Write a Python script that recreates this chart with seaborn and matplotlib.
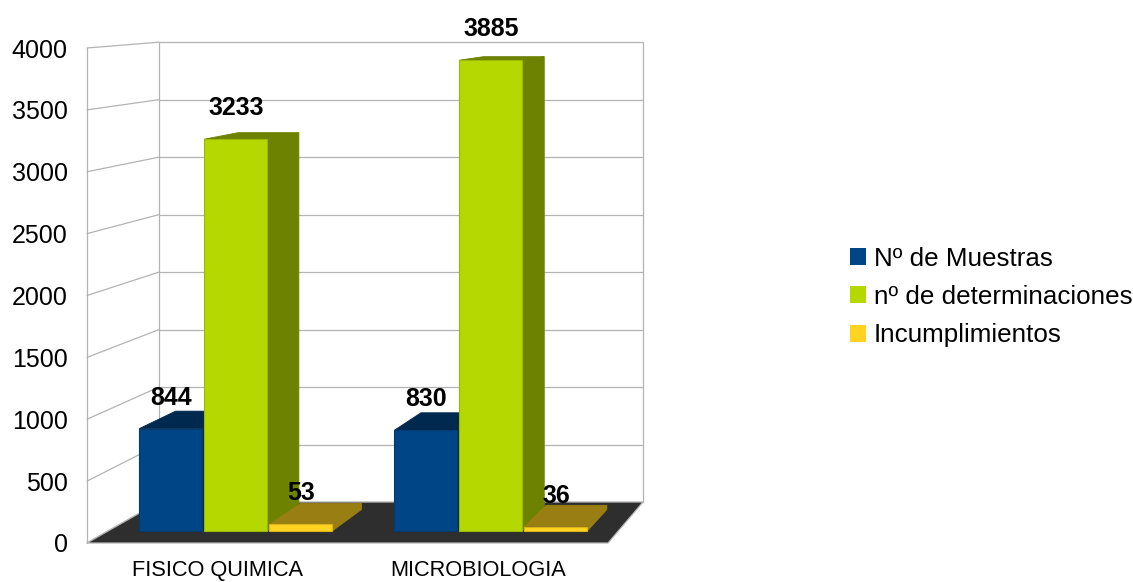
import numpy as np
import pandas as pd
import matplotlib
matplotlib.use("Agg")
import matplotlib.pyplot as plt
from matplotlib.patches import Polygon, Patch
from matplotlib.transforms import Affine2D
from matplotlib.colors import to_rgb
import seaborn as sns

# ---- data ----
categories = ["FISICO QUIMICA", "MICROBIOLOGIA"]
series = ["Nº de Muestras", "nº de determinaciones", "Incumplimientos"]
muestras = [844, 830]
determinaciones = [3233, 3885]
incumplimientos = [53, 36]
colors = ["#004586", "#b5d800", "#ffd320"]
y_ticks = list(range(0, 4001, 500))
y_max = 4000

df = pd.DataFrame({
    "categoria": categories * 3,
    "serie": [s for s in series for _ in categories],
    "valor": muestras + determinaciones + incumplimientos,
})

# ---- figure & pseudo-3D box geometry (image pixels, origin top-left) ----
W, H = 1133, 582
sns.set_style("white")
plt.rcParams["font.family"] = ["Liberation Sans", "DejaVu Sans"]
plt.rcParams["text.color"] = "black"
plt.rcParams["xtick.color"] = "black"
plt.rcParams["ytick.color"] = "black"
fig = plt.figure(figsize=(W / 100, H / 100), dpi=100)
pix = Affine2D().scale(1 / W, -1 / H).translate(0, 1) + fig.transFigure

BOX_L, BOX_R, BOX_B, BOX_T = 87, 608, 543, 48   # front face of the box
VANISH = np.array([1101.0, -34.0])              # vanishing point
WALL_DEPTH = 0.071
BAR_FRONT, BAR_BACK = 0.021, 0.058
GRID = "#b3b3b3"
FLOOR = "#2e2e2e"


def push(p, f_from, f_to):
    """Move image points from one depth to another toward the vanishing point."""
    p = np.asarray(p, dtype=float)
    return VANISH + (p - VANISH) * (1 - f_to) / (1 - f_from)


# front axis: value ticks and category labels
ax_frame = fig.add_axes([BOX_L / W, 1 - BOX_B / H, (BOX_R - BOX_L) / W, (BOX_B - BOX_T) / H])
ax_frame.set_xlim(-0.5, len(categories) - 0.5)
ax_frame.set_ylim(0, y_max)
ax_frame.set_yticks(y_ticks)
ax_frame.set_xticks(range(len(categories)))
ax_frame.set_xticklabels(categories)
ax_frame.tick_params(axis="y", length=0, pad=14, labelsize=18, labelcolor="black")
ax_frame.tick_params(axis="x", length=0, pad=12.5, labelsize=15.7, labelcolor="black")
for s in ax_frame.spines.values():
    s.set_visible(False)
ax_frame.patch.set_alpha(0)
ax_frame.set_zorder(5)


def frame_px(x, v, depth=0.0):
    d = ax_frame.transData.transform(np.column_stack([np.atleast_1d(x), np.atleast_1d(v)]))
    p = pix.inverted().transform(d)
    return push(p, 0.0, depth)


# bar axes: full figure, limits chosen so bar fronts sit at BAR_FRONT depth
ax = fig.add_axes([0, 0, 1, 1])
sns.barplot(data=df, x="categoria", y="valor", hue="serie", palette=colors,
            width=0.765, gap=0.03, saturation=1, legend=False, ax=ax,
            edgecolor="none", linewidth=0)
bars = sorted([bar for cont in ax.containers for bar in cont], key=lambda p: p.get_x())

x_span = (BOX_R - BOX_L) / len(categories)
a = x_span * (1 - BAR_FRONT)
b = VANISH[0] + (BOX_L + 0.5 * x_span - VANISH[0]) * (1 - BAR_FRONT)
c = -(BOX_B - BOX_T) / y_max * (1 - BAR_FRONT)
d = VANISH[1] + (BOX_B - VANISH[1]) * (1 - BAR_FRONT)
ax.set_xlim((0 - b) / a, (W - b) / a)
ax.set_ylim((H - d) / c, (0 - d) / c)
ax.axis("off")

# walls, grid and floor
x_lo, x_hi = -0.5, len(categories) - 0.5
for v in y_ticks:
    f = frame_px(x_lo, v)[0]
    bl = frame_px(x_lo, v, WALL_DEPTH)[0]
    br = frame_px(x_hi, v, WALL_DEPTH)[0]
    ax.plot([f[0], bl[0]], [f[1], bl[1]], color=GRID, lw=0.9, transform=pix, zorder=1, clip_on=False)
    ax.plot([bl[0], br[0]], [bl[1], br[1]], color=GRID, lw=0.9, transform=pix, zorder=1, clip_on=False)
for xx, dep in [(x_lo, 0.0), (x_lo, WALL_DEPTH), (x_hi, WALL_DEPTH)]:
    p0 = frame_px(xx, 0, dep)[0]
    p1 = frame_px(xx, y_max, dep)[0]
    ax.plot([p0[0], p1[0]], [p0[1], p1[1]], color=GRID, lw=0.9, transform=pix, zorder=1, clip_on=False)

floor = np.vstack([frame_px(x_lo, 0), frame_px(x_hi, 0),
                   frame_px(x_hi, 0, WALL_DEPTH), frame_px(x_lo, 0, WALL_DEPTH)])
ax.add_patch(Polygon(floor, closed=True, facecolor=FLOOR, edgecolor=GRID, lw=0.9,
                     transform=pix, zorder=2, clip_on=False))

# extrude each bar: side + top faces, painted left to right
for rank, bar in enumerate(bars):
    x0, w, h = bar.get_x(), bar.get_width(), bar.get_height()
    pts = np.array([[x0, 0], [x0 + w, 0], [x0 + w, h], [x0, h]])
    front = pix.inverted().transform(ax.transData.transform(pts))
    back = push(front, BAR_FRONT, BAR_BACK)
    base = np.array(to_rgb(bar.get_facecolor()))
    dark = tuple(base * 0.6)
    z = 10 + 2 * rank
    side = np.vstack([front[2], front[1], back[1], back[2]])
    top = np.vstack([front[3], front[2], back[2], back[3]])
    ax.add_patch(Polygon(side, closed=True, facecolor=dark, edgecolor=dark, lw=0.6,
                         transform=pix, zorder=z, clip_on=False))
    ax.add_patch(Polygon(top, closed=True, facecolor=dark, edgecolor=dark, lw=0.6,
                         transform=pix, zorder=z, clip_on=False))
    bar.set_zorder(z + 1)
    bar.set_edgecolor(tuple(base * 0.85))
    bar.set_linewidth(0.8)
    bar.set_clip_on(False)

# value labels above each bar
for cont in ax.containers:
    for bar, val in zip(cont, cont.datavalues):
        ax.annotate(f"{val:.0f}", (bar.get_x() + bar.get_width() / 2, val),
                    xytext=(0, 31), textcoords="offset pixels", ha="center", va="center",
                    fontsize=18, fontweight="bold", color="black", zorder=50,
                    annotation_clip=False)

handles = [Patch(facecolor=col, edgecolor="none") for col in colors]
ax.legend(handles, series, loc="center left", bbox_to_anchor=(850, 297), bbox_transform=pix,
          frameon=False, fontsize=18.7, handlelength=0.62, handleheight=0.62,
          handletextpad=0.3, labelspacing=0.55, borderpad=0, borderaxespad=0,
          labelcolor="black")

fig.savefig("out.png", dpi=100, facecolor="white")
